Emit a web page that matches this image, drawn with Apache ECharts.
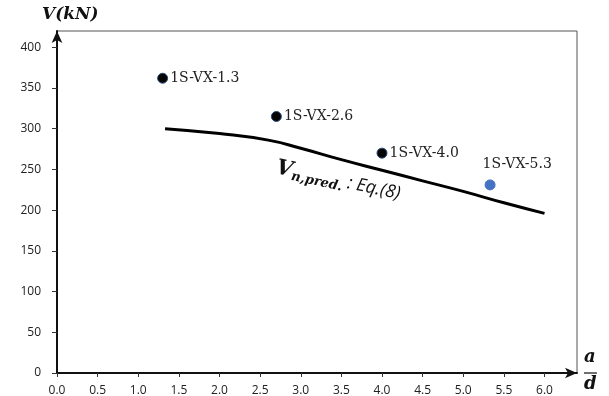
<!DOCTYPE html>
<html>
<head>
<meta charset="utf-8">
<script src="https://cdn.jsdelivr.net/npm/echarts@6/dist/echarts.min.js"></script>
<style>
html,body{margin:0;padding:0;background:#fff;}
#main{width:609px;height:396px;}
</style>
</head>
<body>
<div id="main"></div>
<script>
// test specimens (a/d, V in kN)
var specNames = ['1S-VX-1.3', '1S-VX-2.6', '1S-VX-4.0', '1S-VX-5.3'];
var specAd = [1.3, 2.7, 4.0, 5.33];
var specV = [362, 315, 270, 231];
var specColors = ['#050505', '#050505', '#050505', '#4472c4'];
// predicted curve Eq.(8)
var predAd = [1.33, 2.0, 2.6, 3.0, 3.5, 4.0, 4.5, 5.0, 5.5, 6.0];
var predV = [300, 294, 286, 276, 262, 249, 236, 223, 209, 196];

var chart = echarts.init(document.getElementById('main'));

var pts = specAd.map(function (x, i) {
	return {
		value: [x, specV[i]],
		name: specNames[i],
		itemStyle: { color: specColors[i], borderColor: i < 3 ? '#2a4a7a' : '#4472c4', borderWidth: 1, opacity: 1 },
		label: i == 3 ? { position: [-2, -22] } : {}
	};
});

var serif = '"DejaVu Serif", "Liberation Serif", serif';

chart.setOption({
	animation: false,
	grid: { left: 57, top: 31, right: 32, bottom: 23, outerBoundsMode: 'none', show: true, borderColor: '#555', borderWidth: 1 },
	xAxis: {
		type: 'value', min: 0, max: 6.4, interval: 0.5,
		axisLine: { onZero: false, lineStyle: { color: '#111', width: 2 }, symbol: ['none', 'arrow'], symbolSize: [8, 12] },
		axisTick: { show: true, length: 4, lineStyle: { color: '#333' } },
		axisLabel: { showMaxLabel: false, color: '#222', fontSize: 12, margin: 12, fontFamily: 'Open Sans', formatter: function (v) { return v.toFixed(1); } },
		splitLine: { show: false }
	},
	yAxis: {
		type: 'value', min: 0, max: 420, interval: 50,
		axisLine: { show: true, lineStyle: { color: '#111', width: 2 }, symbol: ['none', 'arrow'], symbolSize: [8, 12] },
		axisTick: { show: true, length: 5, lineStyle: { color: '#333' } },
		axisLabel: { showMaxLabel: false, color: '#222', fontSize: 12, margin: 16, fontFamily: 'Open Sans' },
		splitLine: { show: false }
	},
	series: [
		{
			type: 'line', data: predAd.map(function (x, i) { return [x, predV[i]]; }),
			smooth: true, showSymbol: false,
			lineStyle: { color: '#000', width: 3 }
		},
		{
			type: 'scatter', data: pts, symbolSize: 10,
			label: { show: true, position: 'right', distance: 2, formatter: '{b}', color: '#222', fontSize: 14, fontFamily: serif }
		}
	],
	graphic: [
		{ type: 'text', left: 42, top: 6, style: { text: 'V(kN)', font: 'italic bold 17px ' + serif, fill: '#111' } },
		{ type: 'text', left: 584, top: 348, style: { text: 'a', font: 'italic bold 18px ' + serif, fill: '#111' } },
		{ type: 'line', z: 100, shape: { x1: 584, y1: 373, x2: 597, y2: 373 }, style: { stroke: '#111', lineWidth: 1.2 } },
		{ type: 'text', left: 584, top: 375, style: { text: 'd', font: 'italic bold 18px ' + serif, fill: '#111' } },
		{
			type: 'text', x: 279, y: 156, rotation: -0.21,
			style: {
				text: '{v|V}{s|n,pred.}{t| : Eq.(8)}',
				rich: {
					v: { font: 'italic bold 21px ' + serif, fill: '#111' },
					s: { font: 'italic bold 13px ' + serif, fill: '#111', padding: [11, 0, 0, 0] },
					t: { font: 'italic 18px "Open Sans", sans-serif', fill: '#111' }
				}
			}
		}
	]
});
</script>
</body>
</html>
